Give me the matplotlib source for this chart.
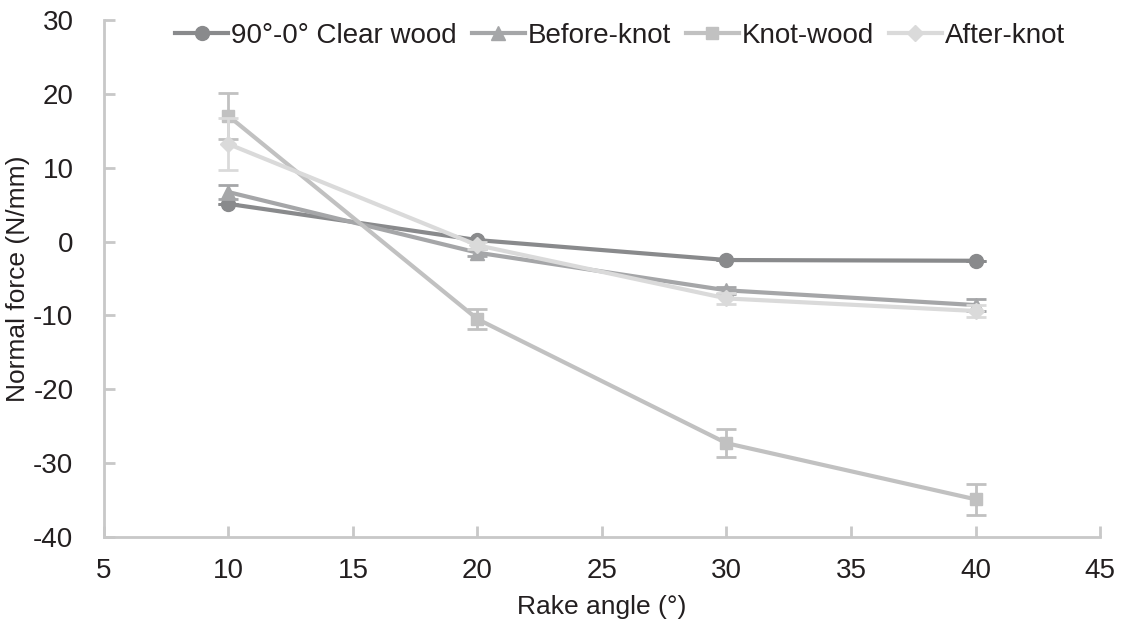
import numpy as np
import matplotlib.pyplot as plt
from matplotlib.lines import Line2D

plt.rcParams['font.family'] = ['Liberation Sans', 'DejaVu Sans']
plt.rcParams['axes.unicode_minus'] = False

rake = [10, 20, 30, 40]
labels = ['90°-0° Clear wood', 'Before-knot', 'Knot-wood', 'After-knot']
clear_wood = [5.1, 0.2, -2.5, -2.6]
clear_err = [0.0, 0.0, 0.0, 0.0]
before_knot = [6.7, -1.5, -6.6, -8.6]
before_err = [0.9, 0.5, 0.5, 0.8]
knot_wood = [17.0, -10.5, -27.3, -34.9]
knot_err = [3.1, 1.4, 1.9, 2.1]
after_knot = [13.2, -0.5, -7.7, -9.4]
after_err = [3.5, 0.5, 0.8, 0.8]

colors = ['#898a8c', '#a5a6a8', '#c1c1c1', '#dadada']
markers = ['o', '^', 's', 'D']
msizes = [10, 10, 9, 8]

fig = plt.figure(figsize=(11.25, 6.21), dpi=100)
ax = fig.add_axes([0.0924, 0.1353, 0.8854, 0.8325])

series = [clear_wood, before_knot, knot_wood, after_knot]
errs = [clear_err, before_err, knot_err, after_err]
handles = []
for i in range(4):
    ax.errorbar(rake, series[i], yerr=errs[i], color=colors[i], marker=markers[i],
                markersize=msizes[i], linewidth=3, elinewidth=2, capsize=7, capthick=2,
                zorder=3 + i)
    handles.append(Line2D([], [], color=colors[i], marker=markers[i],
                          markersize=msizes[i], linewidth=3, label=labels[i]))

ax.set_xlim(5, 45)
ax.set_ylim(-40, 30)
ax.set_xticks(np.arange(5, 46, 5))
ax.set_yticks(np.arange(-40, 31, 10))
for s in ['top', 'right']:
    ax.spines[s].set_visible(False)
for s in ['left', 'bottom']:
    ax.spines[s].set_color('#c8c8c8')
    ax.spines[s].set_linewidth(2)
ax.tick_params(direction='in', length=8, width=2, color='#c8c8c8', labelsize=20,
               labelcolor='#231f20')
ax.tick_params(axis='y', pad=22)
ax.tick_params(axis='x', pad=15)
ax.set_xlabel('Rake angle (°)', fontsize=19, color='#231f20', labelpad=8)
ax.set_ylabel('Normal force (N/mm)', fontsize=19, color='#231f20', labelpad=2)

leg = ax.legend(handles=handles, loc='upper center', ncol=4, frameon=False, fontsize=20,
                bbox_to_anchor=(0.518, 1.037), handlelength=1.9, columnspacing=0.55,
                handletextpad=0.1, borderpad=0.3)
for t in leg.get_texts():
    t.set_color('#231f20')

fig.savefig('out.png', dpi=100)
